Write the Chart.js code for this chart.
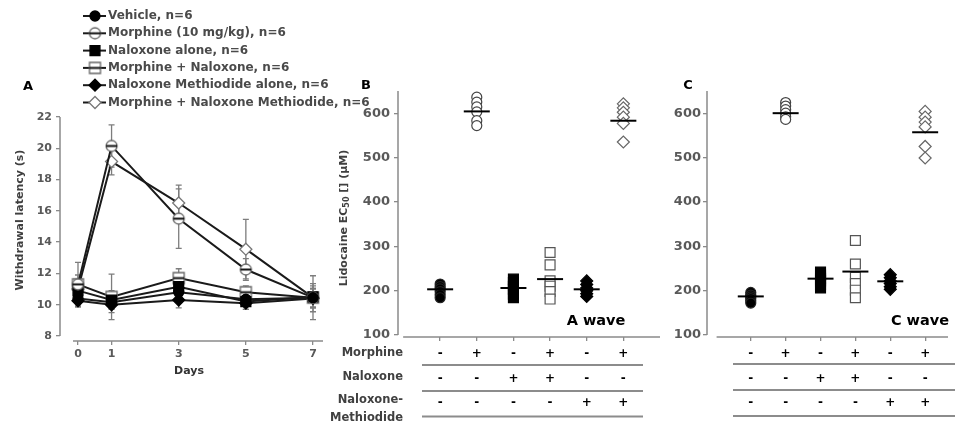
<!DOCTYPE html>
<html><head><meta charset="utf-8">
<script src="https://cdn.jsdelivr.net/npm/chart.js@4/dist/chart.umd.min.js"></script>
<style>
html,body{margin:0;padding:0;background:#fff;}
#wrap{position:relative;width:963px;height:426px;overflow:hidden;background:#fff;}
canvas{position:absolute;left:0;top:0;}
</style></head><body>
<div id="wrap">
<canvas id="cA" width="963" height="426"></canvas>
<canvas id="cB" width="963" height="426"></canvas>
<canvas id="cC" width="963" height="426"></canvas>
</div>
<script>
// ---------- Panel A data ----------
const days = [0, 1, 3, 5, 7];
const yTicksA = [8, 10, 12, 14, 16, 18, 20, 22];
const seriesLabels = ['Vehicle, n=6', 'Morphine (10 mg/kg), n=6', 'Naloxone alone, n=6',
  'Morphine + Naloxone, n=6', 'Naloxone Methiodide alone, n=6', 'Morphine + Naloxone Methiodide, n=6'];
const vehicleLatency   = [10.4, 10.15, 10.8, 10.35, 10.45];
const vehicleErr       = [0.5, 0.4, 0.5, 0.4, 0.6];
const morphineLatency  = [11.3, 20.15, 15.5, 12.25, 10.45];
const morphineErr      = [1.4, 1.35, 1.9, 0.7, 1.4];
const naloxoneLatency  = [10.9, 10.3, 11.15, 10.2, 10.5];
const naloxoneErr      = [0.5, 0.6, 0.5, 0.5, 0.7];
const morphNalLatency  = [11.3, 10.5, 11.7, 10.8, 10.45];
const morphNalErr      = [0.6, 1.45, 0.6, 0.4, 0.9];
const nmAloneLatency   = [10.25, 10.0, 10.3, 10.1, 10.4];
const nmAloneErr       = [0.4, 0.5, 0.5, 0.4, 0.6];
const morphNMLatency   = [11.0, 19.15, 16.5, 13.55, 10.45];
const morphNMErr       = [0.5, 0.85, 1.15, 1.9, 0.6];

// ---------- Panels B / C data ----------
const groupPositions = [1, 2, 3, 4, 5, 6];
const yTicksBC = [100, 200, 300, 400, 500, 600];
const morphineRow   = ['-', '+', '-', '+', '-', '+'];
const naloxoneRow   = ['-', '-', '+', '+', '-', '-'];
const methiodideRow = ['-', '-', '-', '-', '+', '+'];
const rowLabels = ['Morphine', 'Naloxone', 'Naloxone-', 'Methiodide'];

const aWaveVehicle  = [215, 209, 204, 198, 191, 184];
const aWaveMorphine = [636, 625, 614, 603, 583, 572];
const aWaveNaloxone = [226, 218, 210, 203, 192, 184];
const aWaveMorphNal = [286, 258, 222, 210, 198, 181];
const aWaveNMAlone  = [222, 214, 206, 200, 193, 187];
const aWaveMorphNM  = [621, 612, 602, 591, 577, 535];
const aWaveMeans    = [203, 604, 206, 226, 203, 583];

const cWaveVehicle  = [196, 190, 186, 182, 177, 172];
const cWaveMorphine = [624, 616, 608, 600, 592, 586];
const cWaveNaloxone = [242, 235, 228, 222, 214, 206];
const cWaveMorphNal = [313, 260, 230, 216, 201, 184];
const cWaveNMAlone  = [236, 229, 222, 216, 209, 203];
const cWaveMorphNM  = [604, 591, 580, 569, 525, 499];
const cWaveMeans    = [187, 600, 227, 243, 221, 557];

// ---------- helpers ----------
const FONT = 'DejaVu Sans';
const AXIS_GREY = '#8a8a8a';
const TEXT_GREY = '#595959';

function markerCanvas(shape, size, fill, stroke, bar) {
  const c = document.createElement('canvas');
  c.width = c.height = size + 4;
  const g = c.getContext('2d');
  const m = (size + 4) / 2, r = size / 2;
  g.fillStyle = fill; g.strokeStyle = stroke; g.lineWidth = 1.3;
  g.beginPath();
  if (shape === 'circle') g.arc(m, m, r, 0, Math.PI * 2);
  else g.rect(m - r, m - r, size, size);
  g.fill(); g.stroke();
  if (bar) {
    g.strokeStyle = '#111'; g.lineWidth = 2;
    g.beginPath(); g.moveTo(m - r, m); g.lineTo(m + r, m); g.stroke();
  }
  return c;
}
const morphMarker = markerCanvas('circle', 11, '#fff', '#666', true);
const morphNalMarker = markerCanvas('square', 11, '#fff', '#666', true);

const styleA = [
  {pointStyle: 'circle', pointRadius: 5, backgroundColor: '#000', pointBorderColor: '#000'},
  {pointStyle: morphMarker, pointRadius: 6, backgroundColor: '#fff', pointBorderColor: '#666'},
  {pointStyle: 'rect', pointRadius: 7, backgroundColor: '#000', pointBorderColor: '#000'},
  {pointStyle: morphNalMarker, pointRadius: 6, backgroundColor: '#fff', pointBorderColor: '#666'},
  {pointStyle: 'rectRot', pointRadius: 6, backgroundColor: '#000', pointBorderColor: '#000'},
  {pointStyle: 'rectRot', pointRadius: 6, backgroundColor: '#fff', pointBorderColor: '#777'}
];
const seriesA = [vehicleLatency, morphineLatency, naloxoneLatency, morphNalLatency, nmAloneLatency, morphNMLatency];
const errA = [vehicleErr, morphineErr, naloxoneErr, morphNalErr, nmAloneErr, morphNMErr];

// custom axis lines
const axisLinesPlugin = {
  id: 'axisLines',
  beforeDatasetsDraw(chart, args, o) {
    const {ctx, chartArea} = chart; const xs = chart.scales.x, ys = chart.scales.y;
    ctx.save(); ctx.strokeStyle = AXIS_GREY; ctx.lineWidth = 1.5;
    ctx.beginPath();
    ctx.moveTo(chartArea.left, ys.getPixelForValue(o.yFrom));
    ctx.lineTo(chartArea.left, ys.getPixelForValue(o.yTo));
    ctx.moveTo(xs.getPixelForValue(o.xFrom), chartArea.bottom);
    ctx.lineTo(chartArea.right, chartArea.bottom);
    ctx.stroke(); ctx.restore();
  }
};

const errorBarsPlugin = {
  id: 'errorBars',
  beforeDatasetsDraw(chart) {
    const {ctx} = chart; const xs = chart.scales.x, ys = chart.scales.y;
    ctx.save(); ctx.strokeStyle = '#7d7d7d'; ctx.lineWidth = 1.3;
    chart.data.datasets.forEach(ds => {
      if (!ds.errors) return;
      ds.data.forEach((p, i) => {
        const e = ds.errors[i];
        const x = xs.getPixelForValue(p.x);
        const y1 = ys.getPixelForValue(p.y - e), y2 = ys.getPixelForValue(p.y + e);
        ctx.beginPath();
        ctx.moveTo(x, y1); ctx.lineTo(x, y2);
        ctx.moveTo(x - 3, y1); ctx.lineTo(x + 3, y1);
        ctx.moveTo(x - 3, y2); ctx.lineTo(x + 3, y2);
        ctx.stroke();
      });
    });
    ctx.restore();
  }
};

const textPlugin = {
  id: 'texts',
  afterDraw(chart, args, o) {
    const {ctx} = chart;
    (o.items || []).forEach(t => {
      ctx.save();
      ctx.font = t.font; ctx.fillStyle = t.color || '#000';
      ctx.textAlign = t.align || 'center'; ctx.textBaseline = 'middle';
      ctx.translate(t.x, t.y);
      if (t.rotate) ctx.rotate(t.rotate);
      if (t.parts) {
        let total = 0;
        t.parts.forEach(p => { ctx.font = p.font; total += ctx.measureText(p.text).width; });
        let cx = -total / 2;
        ctx.textAlign = 'left';
        t.parts.forEach(p => { ctx.font = p.font; ctx.fillText(p.text, cx, p.dy || 0); cx += ctx.measureText(p.text).width; });
      } else {
        ctx.fillText(t.text, 0, 0);
      }
      ctx.restore();
    });
  }
};

const legendPlugin = {
  id: 'customLegend',
  afterDraw(chart, args, o) {
    const {ctx} = chart;
    chart.data.datasets.forEach((ds, i) => {
      const y = o.top + i * o.step;
      ctx.save();
      ctx.strokeStyle = '#1a1a1a'; ctx.lineWidth = 2;
      ctx.beginPath(); ctx.moveTo(o.x0, y); ctx.lineTo(o.x1, y); ctx.stroke();
      ctx.fillStyle = ds.pointBackgroundColor; ctx.strokeStyle = ds.pointBorderColor; ctx.lineWidth = 1.3;
      Chart.helpers.drawPoint(ctx, {pointStyle: ds.pointStyle, radius: ds.pointRadius, rotation: 0, borderWidth: 1.3}, o.mx, y);
      ctx.font = 'bold 12px ' + FONT; ctx.fillStyle = '#4a4a4a';
      ctx.textAlign = 'left'; ctx.textBaseline = 'middle';
      ctx.fillText(ds.label, o.tx, y);
      ctx.restore();
    });
  }
};

const tablePlugin = {
  id: 'signTable',
  afterDraw(chart, args, o) {
    const {ctx} = chart; const xs = chart.scales.x;
    ctx.save();
    ctx.font = 'bold 12px ' + FONT; ctx.fillStyle = '#000';
    ctx.textAlign = 'center'; ctx.textBaseline = 'middle';
    [morphineRow, naloxoneRow, methiodideRow].forEach((row, r) => {
      row.forEach((s, i) => ctx.fillText(s, xs.getPixelForValue(groupPositions[i]), o.rowY[r]));
    });
    ctx.strokeStyle = '#8c8c8c'; ctx.lineWidth = 2;
    o.lineY.forEach(y => { ctx.beginPath(); ctx.moveTo(o.lineX0, y); ctx.lineTo(o.lineX1, y); ctx.stroke(); });
    if (o.labels) {
      ctx.font = 'bold 11.5px ' + FONT; ctx.fillStyle = '#404040'; ctx.textAlign = 'right';
      rowLabels.forEach((l, i) => ctx.fillText(l, o.labelX, o.labelY[i]));
    }
    ctx.restore();
  }
};

const gridOpts = {display: true, drawOnChartArea: false, drawTicks: true, tickLength: 4, color: AXIS_GREY, lineWidth: 1.3};
const base = {
  animation: false, responsive: false, devicePixelRatio: 1, events: [],
  elements: {line: {tension: 0}}
};

// ---------- Chart A ----------
new Chart(document.getElementById('cA'), {
  type: 'line',
  data: {
    datasets: seriesA.map((vals, k) => Object.assign({
      label: seriesLabels[k],
      data: days.map((d, i) => ({x: d, y: vals[i]})),
      errors: errA[k],
      borderColor: '#1a1a1a', borderWidth: 2,
      pointBackgroundColor: styleA[k].backgroundColor,
      pointBorderWidth: 1.3
    }, styleA[k]))
  },
  options: Object.assign({}, base, {
    layout: {padding: {left: 20, right: 640, top: 117, bottom: 55}},
    scales: {
      x: {type: 'linear', min: -0.536, max: 7.298,
        afterBuildTicks: s => { s.ticks = days.map(v => ({value: v})); },
        afterFit: s => { s.height = 30; },
        grid: gridOpts, border: {display: false},
        ticks: {font: {family: FONT, size: 11, weight: 'bold'}, color: TEXT_GREY, padding: 3, maxRotation: 0, autoSkip: false}},
      y: {type: 'linear', min: 7.68, max: 22,
        afterBuildTicks: s => { s.ticks = yTicksA.map(v => ({value: v})); },
        afterFit: s => { s.width = 40; },
        grid: gridOpts, border: {display: false},
        ticks: {font: {family: FONT, size: 11, weight: 'bold'}, color: TEXT_GREY, padding: 4}}
    },
    plugins: {
      legend: {display: false}, tooltip: {enabled: false},
      axisLines: {yFrom: 22, yTo: 8, xFrom: -0.15},
      customLegend: {top: 16, step: 17.3, x0: 83, x1: 106, mx: 95, tx: 108},
      texts: {items: [
        {text: 'A', x: 28, y: 87, font: 'bold 13px ' + FONT, color: '#000'},
        {text: 'Withdrawal latency (s)', x: 20, y: 220, rotate: -Math.PI / 2, font: 'bold 11px ' + FONT, color: '#404040'},
        {text: 'Days', x: 189, y: 371, font: 'bold 11px ' + FONT, color: '#333'}
      ]}
    }
  }),
  plugins: [axisLinesPlugin, errorBarsPlugin, legendPlugin, textPlugin]
});

// ---------- Charts B & C ----------
function groupDatasets(groups, means) {
  const styles = [
    {pointStyle: 'circle', pointRadius: 5, backgroundColor: '#000', borderColor: '#222'},
    {pointStyle: 'circle', pointRadius: 5, backgroundColor: '#fff', borderColor: '#444'},
    {pointStyle: 'rect', pointRadius: 7, backgroundColor: '#000', borderColor: '#000'},
    {pointStyle: 'rect', pointRadius: 7, backgroundColor: '#fff', borderColor: '#555'},
    {pointStyle: 'rectRot', pointRadius: 6, backgroundColor: '#000', borderColor: '#000'},
    {pointStyle: 'rectRot', pointRadius: 6, backgroundColor: '#fff', borderColor: '#666'}
  ];
  const ds = [{
    data: means.map((m, i) => ({x: groupPositions[i], y: m})),
    pointStyle: 'line', pointRadius: 13, borderColor: '#000', borderWidth: 2, showLine: false
  }];
  groups.forEach((vals, g) => ds.push(Object.assign({
    data: vals.map(v => ({x: groupPositions[g], y: v})),
    borderWidth: 1.2, showLine: false
  }, styles[g])));
  return ds;
}

function panel(id, cfg) {
  new Chart(document.getElementById(id), {
    type: 'scatter',
    data: {datasets: groupDatasets(cfg.groups, cfg.means)},
    options: Object.assign({}, base, {
      layout: {padding: cfg.padding},
      scales: {
        x: {type: 'linear', min: cfg.xMin, max: cfg.xMax,
          afterBuildTicks: s => { s.ticks = groupPositions.map(v => ({value: v})); },
          afterFit: s => { s.height = 30; },
          grid: gridOpts, border: {display: false}, ticks: {display: false}},
        y: {type: 'linear', min: 95.5, max: 650,
          afterBuildTicks: s => { s.ticks = yTicksBC.map(v => ({value: v})); },
          afterFit: s => { s.width = 40; },
          grid: gridOpts, border: {display: false},
          ticks: {font: {family: FONT, size: 13, weight: 'bold'}, color: TEXT_GREY, padding: cfg.tickPad}}
      },
      plugins: {
        legend: {display: false}, tooltip: {enabled: false},
        axisLines: {yFrom: 650, yTo: 100, xFrom: cfg.xLineFrom},
        signTable: cfg.table,
        texts: {items: cfg.texts}
      }
    }),
    plugins: [axisLinesPlugin, tablePlugin, textPlugin]
  });
}

const sub = 'bold 8px ' + FONT, main = 'bold 11px ' + FONT;
panel('cB', {
  groups: [aWaveVehicle, aWaveMorphine, aWaveNaloxone, aWaveMorphNal, aWaveNMAlone, aWaveMorphNM],
  means: aWaveMeans,
  padding: {left: 358, right: 303, top: 91, bottom: 59},
  xMin: -0.15, xMax: 7.0, xLineFrom: -0.01, tickPad: 4,
  table: {rowY: [354, 378.5, 402.5], lineY: [365, 391, 416.5], lineX0: 422, lineX1: 643,
    labels: true, labelX: 403, labelY: [353, 377, 400, 418]},
  texts: [
    {text: 'B', x: 366, y: 86, font: 'bold 13px ' + FONT, color: '#000'},
    {text: 'A wave', x: 596, y: 321, font: 'bold 14.5px ' + FONT, color: '#000'},
    {x: 344, y: 218, rotate: -Math.PI / 2, color: '#404040', parts: [
      {text: 'Lidocaine EC', font: main}, {text: '50', font: sub, dy: 3}, {text: ' [] (\u00b5M)', font: main}]}
  ]
});
panel('cC', {
  groups: [cWaveVehicle, cWaveMorphine, cWaveNaloxone, cWaveMorphNal, cWaveNMAlone, cWaveMorphNM],
  means: cWaveMeans,
  padding: {left: 667, right: 3, top: 91, bottom: 59},
  xMin: -0.255, xMax: 6.655, xLineFrom: 0.02, tickPad: 2,
  table: {rowY: [353.5, 379, 402.5], lineY: [364, 390, 416], lineX0: 733, lineX1: 955, labels: false},
  texts: [
    {text: 'C', x: 688, y: 86, font: 'bold 13px ' + FONT, color: '#000'},
    {text: 'C wave', x: 920, y: 321, font: 'bold 14.5px ' + FONT, color: '#000'}
  ]
});
</script>
</body></html>
